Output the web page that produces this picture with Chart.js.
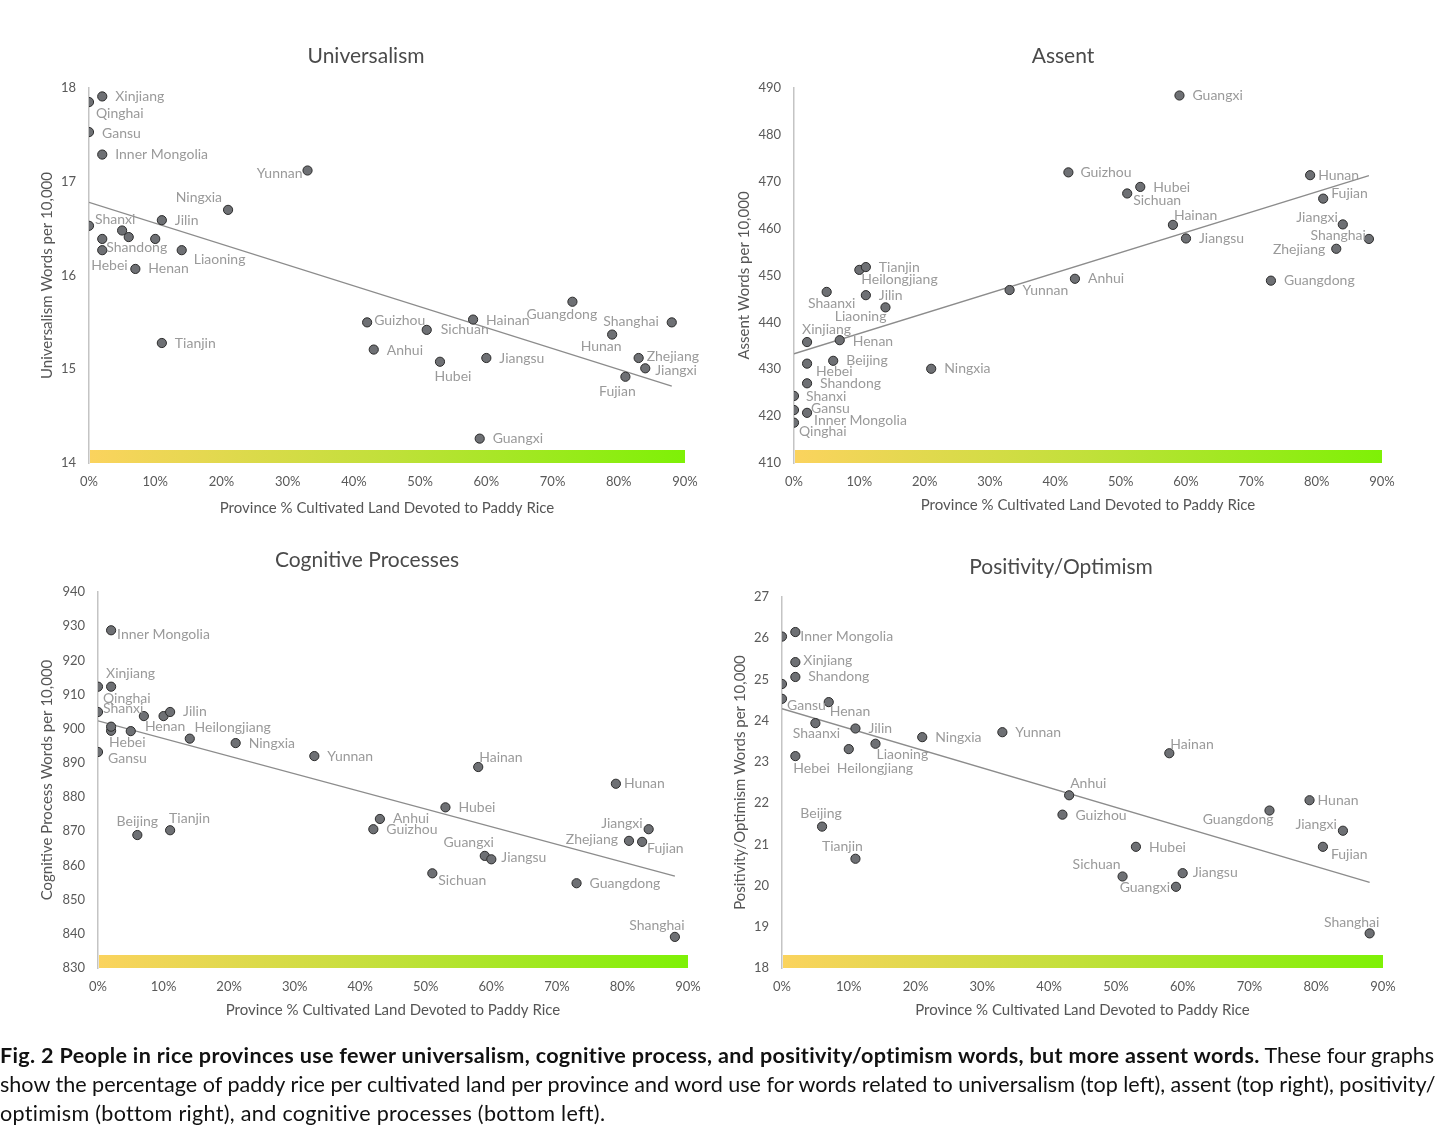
<!DOCTYPE html>
<html><head><meta charset="utf-8">
<script src="https://cdn.jsdelivr.net/npm/chart.js@4.4.0/dist/chart.umd.min.js"></script>
<style>
html,body{margin:0;padding:0;background:#fff;}
body{width:1456px;height:1147px;position:relative;overflow:hidden;font-family:Lato,"Noto Sans",sans-serif;}
.box{position:absolute;}
#caption{position:absolute;left:0;top:1041px;width:1456px;color:#111;font-family:Lato,"Noto Sans",sans-serif;font-size:20px;line-height:29px;}
#caption div{white-space:nowrap;}
#caption b{letter-spacing:0.33px;}
#caption .l3{letter-spacing:0.3px;}
</style></head><body>
<div class="box" id="b1"><canvas id="c1"></canvas></div>
<div class="box" id="b2"><canvas id="c2"></canvas></div>
<div class="box" id="b3"><canvas id="c3"></canvas></div>
<div class="box" id="b4"><canvas id="c4"></canvas></div>
<div id="caption">
<div class="ln"><b>Fig. 2 People in rice provinces use fewer universalism, cognitive process, and positivity/optimism words, but more assent words.</b> These four graphs</div>
<div class="ln">show the percentage of paddy rice per cultivated land per province and word use for words related to universalism (top left), assent (top right), positivity/</div>
<div class="ln l3">optimism (bottom right), and cognitive processes (bottom left).</div>
</div>
<script>
// ---------------- DATA ----------------
const provinces = ["Qinghai","Gansu","Shanxi","Xinjiang","Inner Mongolia","Hebei","Shandong","Shaanxi","Beijing","Henan","Heilongjiang","Tianjin","Jilin","Liaoning","Ningxia","Yunnan","Guizhou","Anhui","Sichuan","Hubei","Hainan","Guangxi","Jiangsu","Guangdong","Hunan","Fujian","Zhejiang","Jiangxi","Shanghai"];
const ricePct = [0,0,0,2,2,2,2,5,6,7,10,11,11,14,21,33,42,43,51,53,58,59,60,73,79,81,83,84,88];

const universalism = [17.85,17.53,16.53,17.91,17.29,16.27,16.39,16.48,16.41,16.07,16.39,15.28,16.59,16.27,16.70,17.12,15.50,15.21,15.42,15.08,15.53,14.26,15.12,15.72,15.37,14.92,15.12,15.01,15.50];
const assent = [418.6,421.3,424.3,435.8,420.7,431.2,427.0,446.5,431.8,436.2,451.2,451.8,445.8,443.2,430.1,446.9,472.0,449.3,467.5,468.9,460.8,488.4,457.9,448.9,471.4,466.4,455.7,460.9,457.8];
const cognitive = [912.3,893.2,904.9,912.3,928.8,899.4,900.6,899.3,868.9,903.7,903.7,870.3,904.9,897.1,895.8,892.0,870.6,873.6,857.7,877.0,888.8,862.8,861.8,854.8,883.9,867.2,866.9,870.6,839.1];
const positivity = [26.04,24.53,24.89,25.42,26.15,23.14,25.06,23.94,21.43,24.45,23.31,20.65,23.81,23.44,23.60,23.72,21.72,22.19,20.22,20.94,23.21,19.97,20.30,21.82,22.07,20.94,null,21.33,18.84];

const trendX = [0, 88];
const trendUniversalism = [16.78, 14.82];
const trendAssent = [433.3, 471.3];
const trendCognitive = [902.3, 856.9];
const trendPositivity = [24.29, 20.08];

const xTicks = [0,10,20,30,40,50,60,70,80,90];
const universalismTicks = [14,15,16,17,18];
const assentTicks = [410,420,430,440,450,460,470,480,490];
const cognitiveTicks = [830,840,850,860,870,880,890,900,910,920,930,940];
const positivityTicks = [18,19,20,21,22,23,24,25,26,27];

const xAxisTitle = "Province % Cultivated Land Devoted to Paddy Rice";

// ---------------- LABEL PLACEMENT (pixel offsets from point) ----------------
const univLabels = {"Xinjiang":[13,0,'l'],"Qinghai":[7,11,'l'],"Gansu":[13,1,'l'],"Inner Mongolia":[13,0,'l'],"Yunnan":[-5,3,'r'],"Ningxia":[-6,-12,'r'],"Jilin":[13,0,'l'],"Shanxi":[6,-6,'l'],"Shandong":[4,9,'l'],"Hebei":[-11,15,'l'],"Liaoning":[12,9,'l'],"Henan":[13,0,'l'],"Tianjin":[13,0,'l'],"Guizhou":[7,-2,'l'],"Sichuan":[14,0,'l'],"Hainan":[13,1,'l'],"Guangdong":[-46,13,'l'],"Shanghai":[-13,-1,'r'],"Hunan":[-11,12,'c'],"Anhui":[13,1,'l'],"Hubei":[13,15,'c'],"Jiangsu":[13,0,'l'],"Zhejiang":[8,-2,'l'],"Jiangxi":[10,2,'l'],"Fujian":[-8,15,'c'],"Guangxi":[13,0,'l']};
const assentLabels = {"Guangxi":[13,0,'l'],"Guizhou":[12,0,'l'],"Hubei":[13,1,'l'],"Sichuan":[6,7,'l'],"Hainan":[1,-9,'l'],"Jiangsu":[13,0,'l'],"Anhui":[13,0,'l'],"Hunan":[8,0,'l'],"Fujian":[8,-5,'l'],"Jiangxi":[-5,-7,'r'],"Shanghai":[-3,-3,'r'],"Zhejiang":[-11,1,'r'],"Guangdong":[13,0,'l'],"Yunnan":[13,0,'l'],"Tianjin":[13,0,'l'],"Heilongjiang":[2,10,'l'],"Shaanxi":[5,12,'c'],"Jilin":[13,0,'l'],"Liaoning":[1,9,'r'],"Xinjiang":[-5,-13,'l'],"Henan":[13,1,'l'],"Beijing":[13,0,'l'],"Hebei":[9,8,'l'],"Ningxia":[13,0,'l'],"Shandong":[13,0,'l'],"Shanxi":[12,1,'l'],"Gansu":[17,-2,'l'],"Inner Mongolia":[7,8,'l'],"Qinghai":[5,9,'l']};
const cogLabels = {"Inner Mongolia":[6,4,'l'],"Xinjiang":[-5,-13,'l'],"Qinghai":[5,12,'l'],"Shanxi":[5,-3,'l'],"Henan":[1,10,'l'],"Jilin":[13,0,'l'],"Heilongjiang":[31,11,'l'],"Hebei":[-2,12,'l'],"Gansu":[10,7,'l'],"Ningxia":[13,0,'l'],"Yunnan":[13,0,'l'],"Beijing":[0,-14,'c'],"Tianjin":[-1,-12,'l'],"Anhui":[13,0,'l'],"Guizhou":[13,0,'l'],"Hainan":[1,-10,'l'],"Hunan":[8,0,'l'],"Hubei":[13,0,'l'],"Jiangxi":[-6,-6,'r'],"Zhejiang":[-24,-2,'r'],"Fujian":[18,8,'l'],"Guangxi":[9,-13,'r'],"Jiangsu":[10,-2,'l'],"Sichuan":[6,7,'l'],"Guangdong":[13,0,'l'],"Shanghai":[-18,-11,'c']};
const posLabels = {"Inner Mongolia":[5,4,'l'],"Xinjiang":[8,-2,'l'],"Shandong":[13,0,'l'],"Gansu":[5,7,'l'],"Henan":[1,9,'l'],"Shaanxi":[1,10,'c'],"Jilin":[13,0,'l'],"Ningxia":[13,0,'l'],"Yunnan":[13,0,'l'],"Liaoning":[1,11,'l'],"Heilongjiang":[-12,19,'l'],"Hebei":[-2,12,'l'],"Beijing":[-1,-13,'c'],"Tianjin":[-13,-12,'c'],"Anhui":[1,-12,'l'],"Guizhou":[13,1,'l'],"Hainan":[1,-9,'l'],"Guangdong":[4,9,'r'],"Hunan":[8,0,'l'],"Jiangxi":[-6,-6,'r'],"Fujian":[8,8,'l'],"Hubei":[13,1,'l'],"Sichuan":[-2,-12,'r'],"Jiangsu":[10,-1,'l'],"Guangxi":[-6,1,'r'],"Shanghai":[-18,-11,'c']};

// ---------------- LAYOUT ----------------
const FONT = 'Lato, "Noto Sans", sans-serif';
const layouts = [
  {box:'b1', id:'c1', left:0, top:0, w:728, h:530, area:{l:89,t:88,r:685,b:463}, title:[366,56], yTitleX:47, xTitleY:508},
  {box:'b2', id:'c2', left:728, top:0, w:728, h:530, area:{l:66,t:88,r:654,b:463}, title:[335,56], yTitleX:16, xTitleY:505},
  {box:'b3', id:'c3', left:0, top:530, w:728, h:520, area:{l:98,t:62,r:688,b:438}, title:[367,30], yTitleX:47, xTitleY:480},
  {box:'b4', id:'c4', left:728, top:530, w:728, h:520, area:{l:54,t:67,r:655,b:438}, title:[333,37], yTitleX:12, xTitleY:480}
];

function makeChart(L, titleText, yTitleText, values, trend, yTicks, labelPos) {
  const box = document.getElementById(L.box);
  box.style.left = L.left + 'px'; box.style.top = L.top + 'px';
  box.style.width = L.w + 'px'; box.style.height = L.h + 'px';
  const canvas = document.getElementById(L.id);
  canvas.width = L.w; canvas.height = L.h;
  canvas.style.width = L.w + 'px'; canvas.style.height = L.h + 'px';

  const pts = [], names = [];
  provinces.forEach((p, i) => { if (values[i] != null) { pts.push({x: ricePct[i], y: values[i]}); names.push(p); } });
  const trendPts = trendX.map((x, i) => ({x: x, y: trend[i]}));

  const deco = {
    id: 'deco_' + L.id,
    beforeDatasetsDraw(chart) {
      const {ctx, chartArea: a} = chart;
      const g = ctx.createLinearGradient(a.left, 0, a.right, 0);
      g.addColorStop(0, '#fbd35e');
      g.addColorStop(0.5, '#c1e03a');
      g.addColorStop(1, '#7ef106');
      ctx.save();
      ctx.fillStyle = g;
      ctx.fillRect(a.left + 1, a.bottom - 13, a.right - a.left - 1, 13);
      ctx.restore();
    },
    afterDatasetsDraw(chart) {
      const ctx = chart.ctx;
      const meta = chart.getDatasetMeta(1);
      ctx.save();
      ctx.font = '14px ' + FONT;
      ctx.fillStyle = '#9a9a9a';
      ctx.textBaseline = 'middle';
      meta.data.forEach((el, i) => {
        const lp = labelPos[names[i]];
        if (!lp) return;
        ctx.textAlign = lp[2] === 'l' ? 'left' : (lp[2] === 'r' ? 'right' : 'center');
        ctx.fillText(names[i], el.x + lp[0], el.y + lp[1]);
      });
      ctx.restore();
    },
    afterDraw(chart) {
      const {ctx, chartArea: a} = chart;
      ctx.save();
      ctx.fillStyle = '#4a4a4a';
      ctx.textBaseline = 'middle';
      ctx.textAlign = 'center';
      ctx.font = '21px ' + FONT;
      ctx.fillText(titleText, L.title[0], L.title[1]);
      ctx.fillStyle = '#555';
      ctx.font = '15px ' + FONT;
      ctx.fillText(xAxisTitle, (a.left + a.right) / 2, L.xTitleY);
      ctx.translate(L.yTitleX, (a.top + a.bottom) / 2);
      ctx.rotate(-Math.PI / 2);
      ctx.fillText(yTitleText, 0, 0);
      ctx.restore();
    }
  };

  return new Chart(canvas, {
    type: 'scatter',
    data: {
      datasets: [
        {type: 'line', data: trendPts, showLine: true, borderColor: '#8c8c8c', borderWidth: 1.3, pointRadius: 0, fill: false, order: 2},
        {data: pts, pointRadius: 4.6, pointBackgroundColor: '#6e7074', pointBorderColor: '#2b2b2b', pointBorderWidth: 1, order: 1}
      ]
    },
    options: {
      responsive: false, animation: false, devicePixelRatio: 1,
      layout: {padding: {top: L.area.t, right: L.w - L.area.r, left: 0, bottom: 0}},
      plugins: {legend: {display: false}, tooltip: {enabled: false}, title: {display: false}},
      scales: {
        x: {
          type: 'linear', min: xTicks[0], max: xTicks[xTicks.length - 1],
          grid: {display: false, drawTicks: false}, border: {display: false},
          afterBuildTicks(s) { s.ticks = xTicks.map(v => ({value: v})); },
          afterFit(s) { s.height = L.h - L.area.b; },
          ticks: {padding: 11, color: '#595959', font: {family: FONT, size: 13}, maxRotation: 0, callback: v => v + '%'}
        },
        y: {
          type: 'linear', min: yTicks[0], max: yTicks[yTicks.length - 1],
          grid: {display: false, drawTicks: false}, border: {display: true, color: '#c4c4c4', width: 1.5},
          afterBuildTicks(s) { s.ticks = yTicks.map(v => ({value: v})); },
          afterFit(s) { s.width = L.area.l; },
          ticks: {padding: 13, color: '#595959', font: {family: FONT, size: 13}}
        }
      }
    },
    plugins: [deco]
  });
}

makeChart(layouts[0], 'Universalism', 'Universalism Words per 10,000', universalism, trendUniversalism, universalismTicks, univLabels);
makeChart(layouts[1], 'Assent', 'Assent Words per 10,000', assent, trendAssent, assentTicks, assentLabels);
makeChart(layouts[2], 'Cognitive Processes', 'Cognitive Process Words per 10,000', cognitive, trendCognitive, cognitiveTicks, cogLabels);
makeChart(layouts[3], 'Positivity/Optimism', 'Positivity/Optimism Words per 10,000', positivity, trendPositivity, positivityTicks, posLabels);

// fit caption width (second line spans the full text width in the reference)
(function(){
  const cap = document.getElementById('caption');
  const lines = cap.querySelectorAll('.ln');
  const probe = document.createElement('span');
  probe.style.whiteSpace = 'nowrap';
  probe.innerHTML = lines[1].innerHTML;
  lines[1].innerHTML = ''; lines[1].appendChild(probe);
  const w = probe.getBoundingClientRect().width;
  if (w > 0) cap.style.fontSize = (20 * 1436 / w).toFixed(2) + 'px';
})();
</script>
</body></html>
